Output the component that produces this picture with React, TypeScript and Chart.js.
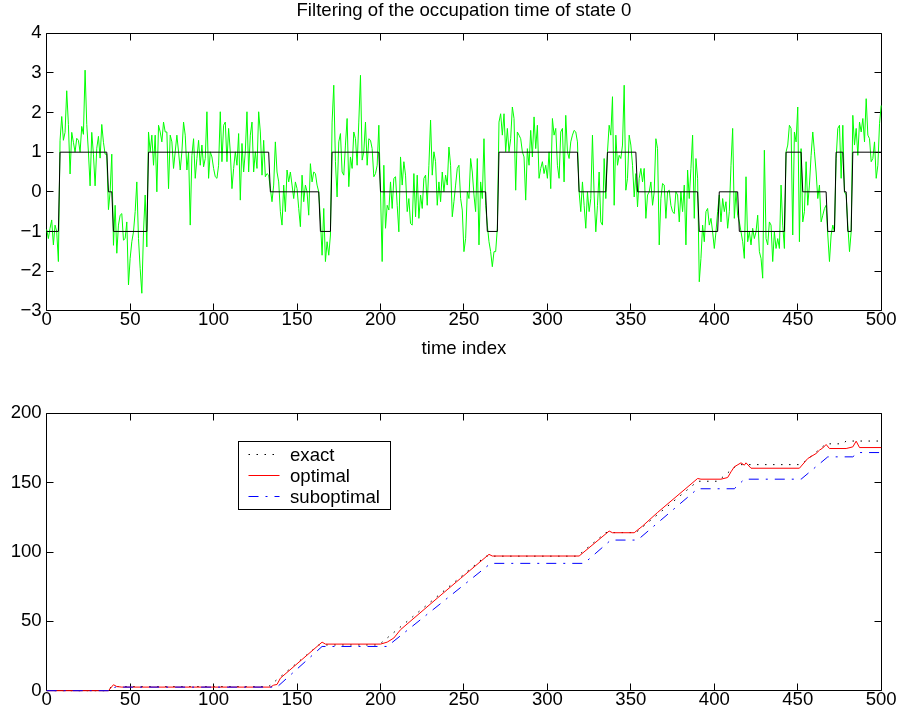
import React, { useEffect, useRef } from "react";
import { Chart, registerables } from "chart.js";

Chart.register(...registerables);

const FONT = "'Liberation Sans', Arial, Helvetica, sans-serif";
const TEXT_SIZE = 18.6;

const TITLE = "Filtering of the occupation time of state 0";
const X_TITLE = "time index";

// Noisy observation, one sample per time index 0..500
const observation: number[] = [
  -0.95, -1.18, -0.92, -0.71, -1.34, -0.84, -1.0, -1.76, 1.3, 1.9,
  1.3, 1.5, 2.55, 1.7, 0.45, 1.5, 1.25, 1.0, 1.35, 1.3,
  1.0, 1.65, 1.45, 3.07, 1.7, 1.0, 0.15, 1.5, 0.95, 0.15,
  1.1, 1.4, 0.85, 1.7, 1.25, 0.95, 0.95, -0.45, 0.0, 0.95,
  -1.35, -0.34, -1.55, -0.84, -0.59, -0.55, -1.22, -1.18, -0.76, -2.35,
  -1.68, -1.26, -1.01, -0.5, 0.25, -1.18, -1.93, -2.56, -1.01, -0.08,
  -1.39, 1.51, 1.01, 1.43, 0.67, 1.43, 0.0, 1.68, 1.51, 1.26,
  1.76, 1.51, 1.51, 0.08, 1.43, 1.26, 0.59, 1.01, 1.43, 1.01,
  0.55, 1.01, 1.76, 1.43, 0.55, 1.0, -0.84, 0.92, 1.34, 0.34,
  0.84, 1.3, 0.67, 1.18, 0.63, 0.84, 2.02, 0.34, 1.01, 0.88,
  0.59, 0.38, 0.34, 0.67, 2.02, 0.76, 1.68, 1.76, 0.76, 1.6,
  1.01, 0.08, 0.59, 1.01, 0.67, 1.47, -0.21, 1.22, 0.5, 1.01,
  2.02, 0.5, 1.43, 1.76, 0.5, 1.01, 0.59, 2.02, 1.51, 0.42,
  1.3, 0.38, 0.46, 0.42, 0.08, -0.25, 0.17, 1.26, 0.5, 0.25,
  -0.5, -0.84, 0.17, -0.5, 0.55, 0.25, 0.5, 0.17, -0.17, 0.25,
  0.08, -0.42, -0.88, 0.42, -0.25, 0.17, 0.0, -0.59, 0.71, 0.25,
  0.5, 0.46, 0.17, 0.0, -0.71, -1.6, -0.42, -1.76, -1.26, -1.6,
  -1.09, 1.76, 2.69, 0.76, -0.13, 1.26, 1.47, 0.5, 0.42, 1.18,
  1.85, 0.13, 0.88, 0.59, 1.51, 1.34, 0.67, 1.76, 2.94, 0.8,
  1.01, 1.76, 0.67, 1.34, 1.3, 1.09, 0.38, 0.46, 0.67, 1.68,
  0.0, -1.76, 0.67, -0.92, -0.34, -0.46, 0.25, -0.42, 0.34, 0.38,
  -0.34, -1.01, 0.88, 0.17, 0.76, 0.42, -0.5, -0.17, -0.8, -0.84,
  0.46, -0.63, 0.42, -0.67, -0.08, -0.42, 0.34, 0.42, -0.34, 0.67,
  1.81, 0.42, 1.01, 0.76, -0.34, 0.25, -0.25, 0.5, 0.0, 0.42,
  0.17, 1.13, 0.67, -0.63, -0.25, 0.17, 0.59, 0.67, -0.17, -0.46,
  -1.51, -1.18, 0.0, -0.17, 0.84, 0.5, -0.08, -0.5, 0.84, -1.34,
  0.25, -0.17, 1.34, -0.34, -0.84, -1.26, -1.51, -1.89, -1.51, -1.51,
  -0.92, 1.76, 1.97, 1.43, 1.97, 1.01, 1.6, 1.01, 1.34, 2.14,
  1.85, 0.04, 1.51, 1.43, 1.34, 1.01, 0.88, -0.21, 1.09, 0.67,
  1.55, 0.88, 1.89, 1.09, 1.68, 0.34, 0.59, 0.76, 0.46, 0.67,
  0.34, 1.01, 0.08, 1.85, 1.43, 1.6, 0.67, 0.34, 1.51, 1.6,
  0.25, 1.93, 1.01, 0.84, 1.26, 1.43, 1.55, 1.51, 1.26, 0.0,
  -0.5, 0.25, -0.34, -0.92, 0.0, -0.5, -0.17, 1.43, -0.08, -1.01,
  -0.34, 0.5, -0.76, -0.84, 0.84, -0.17, 1.01, 1.68, 1.43, 2.4,
  -0.34, 1.43, 0.67, 0.92, 0.84, 1.18, 2.69, 0.04, 0.34, 1.43,
  1.18, 0.67, -0.13, 0.46, -0.38, 0.34, 0.59, 0.25, 0.59, -0.67,
  -0.08, 0.0, 0.25, -0.34, 0.0, 1.34, 1.09, -1.34, -0.17, 0.21,
  0.17, -0.67, 0.0, 0.04, -0.34, -0.5, -0.55, 0.0, -0.08, -0.76,
  0.0, -0.5, 0.17, -1.34, 0.55, -0.17, 0.59, 1.43, -0.67, 0.84,
  0.34, -2.27, -1.68, -0.84, -1.26, -0.5, -0.42, -0.84, -0.67, -1.01,
  -1.43, -1.01, -0.5, -0.08, -0.76, -0.17, -0.5, -0.25, -0.92, -0.5,
  0.67, 1.6, -0.67, 0.0, -0.59, -0.76, -1.01, -1.26, -1.68, 0.38,
  -1.26, -1.01, -1.34, -0.92, -1.18, -1.01, -0.59, -1.51, -1.68, -2.18,
  1.05, -1.18, -1.34, -0.76, -0.84, -1.76, -1.01, -1.43, -1.18, -1.43,
  0.17, -0.84, -1.43, 1.01, 1.18, 1.68, 1.6, -1.09, 1.51, 1.26,
  2.14, -1.26, 1.09, -0.76, -0.5, 0.76, -0.34, 0.17, 0.92, 1.51,
  1.01, 0.5, -0.17, 0.17, -0.76, -0.59, -0.42, -0.34, -1.09, -1.76,
  -1.09, -0.84, -1.01, 0.84, 1.6, 1.68, 0.34, 1.68, 0.0, -0.08,
  -0.84, -1.51, -1.01, 1.93, 1.18, 1.6, 0.92, 1.76, 1.51, 1.85,
  1.26, 2.35, 1.43, 1.34, 0.76, 0.84, 1.26, 0.34, 0.67, 1.72,
  2.18,
];

// Hidden state path (-1, 0, 1), given by its corner points
const stateTime = [0, 7, 8, 36, 37, 39, 40, 60, 61, 133, 134, 163, 164, 170, 171, 199, 200, 263, 264, 270, 271, 318, 319, 335, 336, 353, 354, 390, 391, 402, 403, 414, 415, 442, 443, 452, 453, 467, 468, 472, 473, 477, 478, 479, 480, 482, 483, 500];
const stateLevel = [-1, -1, 1, 1, 0, 0, -1, -1, 1, 1, 0, 0, -1, -1, 1, 1, 0, 0, -1, -1, 1, 1, 0, 0, 1, 1, 0, 0, -1, -1, 0, 0, -1, -1, 1, 1, 0, 0, -1, -1, 1, 1, 0, 0, -1, -1, 1, 1];

// Occupation time of state 0: exact count and the two filter estimates
const exactTime = [0, 36, 39, 133, 163, 199, 263, 318, 335, 353, 390, 402, 414, 452, 467, 477, 479, 500];
const exactCount = [0, 0, 3, 3, 33, 33, 97, 97, 114, 114, 151, 151, 163, 163, 178, 178, 180, 180];

const optimalTime = [0, 37, 40, 42, 45, 134, 136, 138, 140, 165, 167, 200, 204, 208, 212, 234, 248, 265, 267, 319, 337, 339, 352, 357, 366, 390, 392, 404, 408, 410, 412, 416, 418, 419, 422, 451, 456, 461, 463, 465, 467, 469, 479, 483, 485, 487, 500];
const optimalCount = [0, 0, 4.3, 3, 2.6, 2.6, 4, 4.5, 9, 35, 33.6, 33.6, 35, 38, 44, 66.7, 81, 98.3, 97.1, 97.1, 115.1, 113.9, 113.9, 118.7, 128.5, 153, 152.5, 152.5, 153.7, 157.8, 161.4, 164.3, 162.6, 164.3, 160.4, 160.4, 167.4, 171, 173.4, 175, 177.5, 174.6, 174.6, 175.8, 179.9, 175.3, 175.3];

const suboptimalTime = [0, 39, 41, 138, 165, 204, 266, 322, 338, 354, 390, 412, 418, 452, 468, 483, 486, 500];
const suboptimalCount = [0, 0, 2.6, 2.6, 31.9, 31.9, 91.8, 91.8, 108.6, 108.6, 145.6, 145.6, 152.5, 152.5, 168.6, 168.6, 171.7, 171.7];

const X_MIN = 0;
const X_MAX = 500;
const X_STEP = 50;
const TOP_Y = { min: -3, max: 4, step: 1 };
const BOTTOM_Y = { min: 0, max: 200, step: 50 };

const legendLabels = ["exact", "optimal", "suboptimal"];

const pairs = (xs: number[], ys: number[]) => xs.map((x, i) => ({ x, y: ys[i] }));

const minusLabel = (v: number | string) => {
  const n = Number(v);
  return n < 0 ? "\u2212" + Math.abs(n) : String(n);
};

const textFont = (size = TEXT_SIZE, lineHeight = 1.2) => ({
  family: FONT,
  size,
  weight: "normal" as const,
  lineHeight,
});

// Box round the plot area with inward tick marks on all four sides,
// drawn underneath the data lines
const framePlugin = {
  id: "frame",
  beforeDatasetsDraw(chart: any) {
    const { ctx, chartArea, scales } = chart;
    const snap = (v: number) => Math.floor(v) + 0.5;
    const L = snap(chartArea.left);
    const R = snap(chartArea.right);
    const T = snap(chartArea.top);
    const B = snap(chartArea.bottom);
    const len = 7;
    ctx.save();
    ctx.strokeStyle = "#000";
    ctx.lineWidth = 1;
    ctx.setLineDash([]);
    ctx.beginPath();
    ctx.rect(L, T, R - L, B - T);
    for (const t of scales.x.ticks) {
      const px = snap(scales.x.getPixelForValue(t.value));
      ctx.moveTo(px, B);
      ctx.lineTo(px, B - len);
      ctx.moveTo(px, T);
      ctx.lineTo(px, T + len);
    }
    for (const t of scales.y.ticks) {
      const py = snap(scales.y.getPixelForValue(t.value));
      ctx.moveTo(L, py);
      ctx.lineTo(L + len, py);
      ctx.moveTo(R, py);
      ctx.lineTo(R - len, py);
    }
    ctx.stroke();
    ctx.restore();
  },
};

// Boxed legend inside the lower plot
const boxLegendPlugin = {
  id: "boxLegend",
  afterDraw(chart: any) {
    const { ctx, chartArea } = chart;
    const bx = Math.floor(chartArea.left + 191.6) + 0.5;
    const by = Math.floor(chartArea.top + 28) + 0.5;
    const bw = 152;
    const bh = 68;
    ctx.save();
    ctx.fillStyle = "#fff";
    ctx.fillRect(bx, by, bw, bh);
    ctx.strokeStyle = "#000";
    ctx.lineWidth = 1;
    ctx.setLineDash([]);
    ctx.strokeRect(bx, by, bw, bh);
    ctx.font = `${TEXT_SIZE}px ${FONT}`;
    ctx.textBaseline = "alphabetic";
    ctx.textAlign = "left";
    legendLabels.forEach((label, i) => {
      const ds = chart.data.datasets.find((d: any) => d.label === label);
      const base = by + 19 + i * 21;
      const ly = Math.floor(base - 6) + 0.5;
      ctx.strokeStyle = ds.borderColor;
      ctx.lineWidth = ds.borderWidth;
      ctx.setLineDash(ds.borderDash || []);
      ctx.beginPath();
      ctx.moveTo(bx + 10, ly);
      ctx.lineTo(bx + 41, ly);
      ctx.stroke();
      ctx.setLineDash([]);
      ctx.fillStyle = "#000";
      ctx.fillText(label, bx + 51.5, base);
    });
    ctx.restore();
  },
};

const lineStyle = { pointRadius: 0, borderWidth: 1, tension: 0, fill: false, clip: false };

function baseScales(yRange: { min: number; max: number; step: number }, xHeight: number, withTitle: boolean) {
  return {
    x: {
      type: "linear" as const,
      min: X_MIN,
      max: X_MAX,
      grid: { display: false, drawTicks: false },
      border: { display: false },
      ticks: {
        stepSize: X_STEP,
        padding: 0,
        color: "#000",
        font: textFont(TEXT_SIZE, 1),
        maxRotation: 0,
        autoSkip: false,
      },
      title: {
        display: withTitle,
        text: X_TITLE,
        color: "#000",
        font: textFont(),
        padding: { top: 0, bottom: 1 },
      },
      afterFit: (s: any) => {
        s.height = xHeight;
      },
    },
    y: {
      type: "linear" as const,
      min: yRange.min,
      max: yRange.max,
      grid: { display: false, drawTicks: false },
      border: { display: false },
      ticks: {
        stepSize: yRange.step,
        padding: 5,
        color: "#000",
        font: textFont(TEXT_SIZE, 1),
        callback: minusLabel,
      },
      afterFit: (s: any) => {
        s.width = 46.7;
      },
    },
  };
}

export default function App() {
  const topRef = useRef<HTMLCanvasElement>(null);
  const bottomRef = useRef<HTMLCanvasElement>(null);

  useEffect(() => {
    const topChart = new Chart(topRef.current as HTMLCanvasElement, {
      type: "line",
      data: {
        datasets: [
          {
            label: "state",
            data: pairs(stateTime, stateLevel),
            borderColor: "#000000",
            order: 1,
            ...lineStyle,
          },
          {
            label: "observation",
            data: observation.map((v, i) => ({ x: i, y: v })),
            borderColor: "#00ff00",
            order: 2,
            ...lineStyle,
          },
        ],
      },
      options: {
        responsive: false,
        animation: false,
        events: [],
        layout: { padding: { left: 0, right: 19.8, top: 0, bottom: 0 } },
        plugins: {
          legend: { display: false },
          tooltip: { enabled: false },
          title: {
            display: true,
            text: TITLE,
            fullSize: false,
            color: "#000",
            font: textFont(),
            padding: { top: 0, bottom: 33.3 - TEXT_SIZE * 1.2 },
          },
        },
        scales: baseScales(TOP_Y, 50.3, true),
      } as any,
      plugins: [framePlugin],
    });

    const bottomChart = new Chart(bottomRef.current as HTMLCanvasElement, {
      type: "line",
      data: {
        datasets: [
          {
            label: "exact",
            data: pairs(exactTime, exactCount),
            borderColor: "#000000",
            borderDash: [1.5, 6.5],
            order: 3,
            ...lineStyle,
          },
          {
            label: "optimal",
            data: pairs(optimalTime, optimalCount),
            borderColor: "#ff0000",
            order: 2,
            ...lineStyle,
          },
          {
            label: "suboptimal",
            data: pairs(suboptimalTime, suboptimalCount),
            borderColor: "#0000ff",
            borderDash: [10, 7, 2, 7],
            order: 1,
            ...lineStyle,
          },
        ],
      },
      options: {
        responsive: false,
        animation: false,
        events: [],
        layout: { padding: { left: 0, right: 19.8, top: 52.3, bottom: 0 } },
        plugins: {
          legend: { display: false },
          tooltip: { enabled: false },
          title: { display: false },
        },
        scales: baseScales(BOTTOM_Y, 31.3, false),
      } as any,
      plugins: [framePlugin, boxLegendPlugin],
    });

    return () => {
      topChart.destroy();
      bottomChart.destroy();
    };
  }, []);

  return (
    <div
      style={{
        position: "fixed",
        left: 0,
        top: 0,
        width: 901,
        height: 722,
        background: "#ffffff",
      }}
    >
      <canvas
        ref={topRef}
        width={901}
        height={361}
        style={{ position: "absolute", left: 0, top: 0, width: 901, height: 361 }}
      />
      <canvas
        ref={bottomRef}
        width={901}
        height={361}
        style={{ position: "absolute", left: 0, top: 361, width: 901, height: 361 }}
      />
    </div>
  );
}
